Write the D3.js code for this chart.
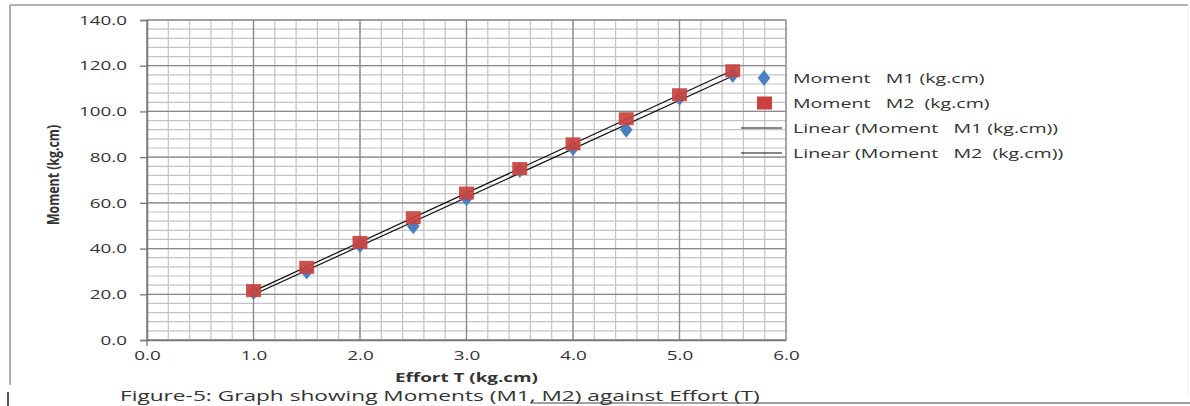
<!DOCTYPE html>
<html>
<head>
<meta charset="utf-8">
<script src="https://cdn.jsdelivr.net/npm/d3@7"></script>
<style>
  body { margin: 0; background: #fff; }
  svg { display: block; }
  text { font-family: "Open Sans", "Noto Sans", sans-serif; fill: #333; }
</style>
</head>
<body>
<div id="chart"></div>
<script>
const effort = [1.0, 1.5, 2.0, 2.5, 3.0, 3.5, 4.0, 4.5, 5.0, 5.5];
const momentM1 = [21.0, 30.0, 41.6, 49.8, 62.0, 74.4, 84.0, 92.0, 106.0, 116.0];
const momentM2 = [21.6, 31.8, 42.7, 53.5, 64.3, 75.0, 85.8, 96.8, 107.3, 117.8];
const xTicks = [0, 1, 2, 3, 4, 5, 6];
const yTicks = [0, 20, 40, 60, 80, 100, 120, 140];
const legendLabels = ["Moment   M1 (kg.cm)", "Moment   M2  (kg.cm)",
    "Linear (Moment   M1 (kg.cm))", "Linear (Moment   M2  (kg.cm))"];

const width = 1190, height = 406;
const margin = { top: 20, right: 404, bottom: 66, left: 147 };
const sx = 1.45; // the scanned figure is stretched sideways

const svg = d3.select("#chart").append("svg")
    .attr("width", width)
    .attr("height", height);

// text with a sideways stretch
function wideText(px, py, str, size, anchor, k) {
    return svg.append("text")
        .attr("transform", `translate(${px},${py}) scale(${k || sx},1)`)
        .attr("text-anchor", anchor || "start")
        .attr("font-size", size)
        .attr("xml:space", "preserve")
        .style("white-space", "pre")
        .text(str);
}

// outer frame (partial, like the scanned figure)
svg.append("line").attr("x1", 10).attr("x2", 1188).attr("y1", 5).attr("y2", 5)
    .attr("stroke", "#999").attr("stroke-width", 1.5);
svg.append("line").attr("x1", 10).attr("x2", 10).attr("y1", 5).attr("y2", 385)
    .attr("stroke", "#999").attr("stroke-width", 1.5);
svg.append("line").attr("x1", 1188).attr("x2", 1188).attr("y1", 5).attr("y2", 395)
    .attr("stroke", "#eee").attr("stroke-width", 1);
svg.append("line").attr("x1", 8).attr("x2", 8).attr("y1", 392).attr("y2", 406)
    .attr("stroke", "#222").attr("stroke-width", 1.5);

const x = d3.scaleLinear().domain([0, 6]).range([margin.left, width - margin.right]);
const y = d3.scaleLinear().domain([0, 140]).range([height - margin.bottom, margin.top]);

const grid = svg.append("g");
// minor grid
grid.selectAll(".vminor")
    .data(d3.range(0, 6.01, 0.2))
    .enter().append("line")
    .attr("x1", d => x(d)).attr("x2", d => x(d))
    .attr("y1", y(0)).attr("y2", y(140))
    .attr("stroke", "#c4c4c4").attr("stroke-width", 1.2);
grid.selectAll(".hminor")
    .data(d3.range(0, 140.1, 4))
    .enter().append("line")
    .attr("x1", x(0)).attr("x2", x(6))
    .attr("y1", d => y(d)).attr("y2", d => y(d))
    .attr("stroke", "#c4c4c4").attr("stroke-width", 1.2);
// major grid
grid.selectAll(".vmajor")
    .data(xTicks)
    .enter().append("line")
    .attr("x1", d => x(d)).attr("x2", d => x(d))
    .attr("y1", y(0)).attr("y2", y(140))
    .attr("stroke", "#8a8a8a").attr("stroke-width", 1.3);
grid.selectAll(".hmajor")
    .data(yTicks)
    .enter().append("line")
    .attr("x1", x(0)).attr("x2", x(6))
    .attr("y1", d => y(d)).attr("y2", d => y(d))
    .attr("stroke", "#8a8a8a").attr("stroke-width", 1.3);

// axes
const yAxis = svg.append("g")
    .attr("transform", `translate(${margin.left},0)`)
    .call(d3.axisLeft(y).tickValues(yTicks).tickFormat(d3.format(".1f")).tickSize(7).tickPadding(7));
const xAxis = svg.append("g")
    .attr("transform", `translate(0,${y(0)})`)
    .call(d3.axisBottom(x).tickValues(xTicks).tickFormat(d3.format(".1f")).tickSize(0).tickPadding(11));
[xAxis, yAxis].forEach(a => {
    a.select(".domain").attr("stroke", "#777").attr("stroke-width", 1.5);
    a.selectAll(".tick line").attr("stroke", "#777").attr("stroke-width", 1.3);
    a.selectAll(".tick text").attr("font-size", 13).attr("fill", "#333")
        .attr("font-family", "'Open Sans', sans-serif")
        .attr("transform", `scale(${sx},1)`);
});
yAxis.selectAll(".tick text").attr("x", -20 / sx);
// small tick on x axis at origin
svg.append("line").attr("x1", x(0)).attr("x2", x(0)).attr("y1", y(0)).attr("y2", y(0) + 6)
    .attr("stroke", "#777").attr("stroke-width", 1.3);

// axis titles
wideText(x(3), 382, "Effort T (kg.cm)", 13, "middle")
    .attr("font-weight", "bold").attr("fill", "#111");
svg.append("text")
    .attr("transform", `translate(59,${y(70) - 5}) rotate(-90) scale(0.95,1.2)`)
    .attr("text-anchor", "middle")
    .attr("font-family", "'Liberation Sans Narrow', 'DejaVu Sans Condensed', sans-serif")
    .attr("font-size", 13).attr("font-weight", "bold").attr("fill", "#111")
    .text("Moment (kg.cm)");

// linear trend lines
function fit(xs, ys) {
    const mx = d3.mean(xs), my = d3.mean(ys);
    const b = d3.sum(xs, (v, i) => (v - mx) * (ys[i] - my)) / d3.sum(xs, v => (v - mx) * (v - mx));
    return { a: my - b * mx, b: b };
}
const line = d3.line().x(d => x(d[0])).y(d => y(d[1]));
[momentM1, momentM2].forEach(ys => {
    const f = fit(effort, ys);
    const x0 = d3.min(effort), x1 = d3.max(effort);
    svg.append("path")
        .attr("d", line([[x0, f.a + f.b * x0], [x1, f.a + f.b * x1]]))
        .attr("stroke", "#111").attr("stroke-width", 1.2).attr("fill", "none");
});

// markers
const diamond = d3.symbol().type(d3.symbolDiamond).size(75);
svg.append("g").selectAll("path")
    .data(effort.map((v, i) => [v, momentM1[i]]))
    .enter().append("path")
    .attr("d", diamond)
    .attr("transform", d => `translate(${x(d[0])},${y(d[1])}) scale(1.35,1)`)
    .attr("fill", "#4a7fc1");
svg.append("g").selectAll("rect")
    .data(effort.map((v, i) => [v, momentM2[i]]))
    .enter().append("rect")
    .attr("x", d => x(d[0]) - 7.5).attr("y", d => y(d[1]) - 6.5)
    .attr("width", 15).attr("height", 13)
    .attr("fill", "#c8433f").attr("opacity", 0.92);

// legend
const leg = svg.append("g");
const legY = [78, 103, 128, 153];
leg.append("path").attr("d", diamond)
    .attr("transform", `translate(764,${legY[0]}) scale(1.35,1)`).attr("fill", "#4a7fc1");
leg.append("rect").attr("x", 757).attr("y", legY[1] - 6.5).attr("width", 15).attr("height", 13)
    .attr("fill", "#c8433f");
leg.append("line").attr("x1", 741).attr("x2", 782).attr("y1", legY[2]).attr("y2", legY[2])
    .attr("stroke", "#111").attr("stroke-width", 1.2);
leg.append("line").attr("x1", 741).attr("x2", 782).attr("y1", legY[3]).attr("y2", legY[3])
    .attr("stroke", "#111").attr("stroke-width", 1.2);
legendLabels.forEach((d, i) => {
    wideText(793, legY[i] + 5, d, 13.5).attr("fill", "#222");
});

// caption
wideText(120, 401, "Figure-5: Graph showing Moments (M1, M2) against Effort (T)", 14, "start", 1.62)
    .attr("fill", "#222");
svg.append("line").attr("x1", 530).attr("x2", 1190).attr("y1", 403).attr("y2", 403)
    .attr("stroke", "#444").attr("stroke-width", 1.2);
</script>
</body>
</html>
